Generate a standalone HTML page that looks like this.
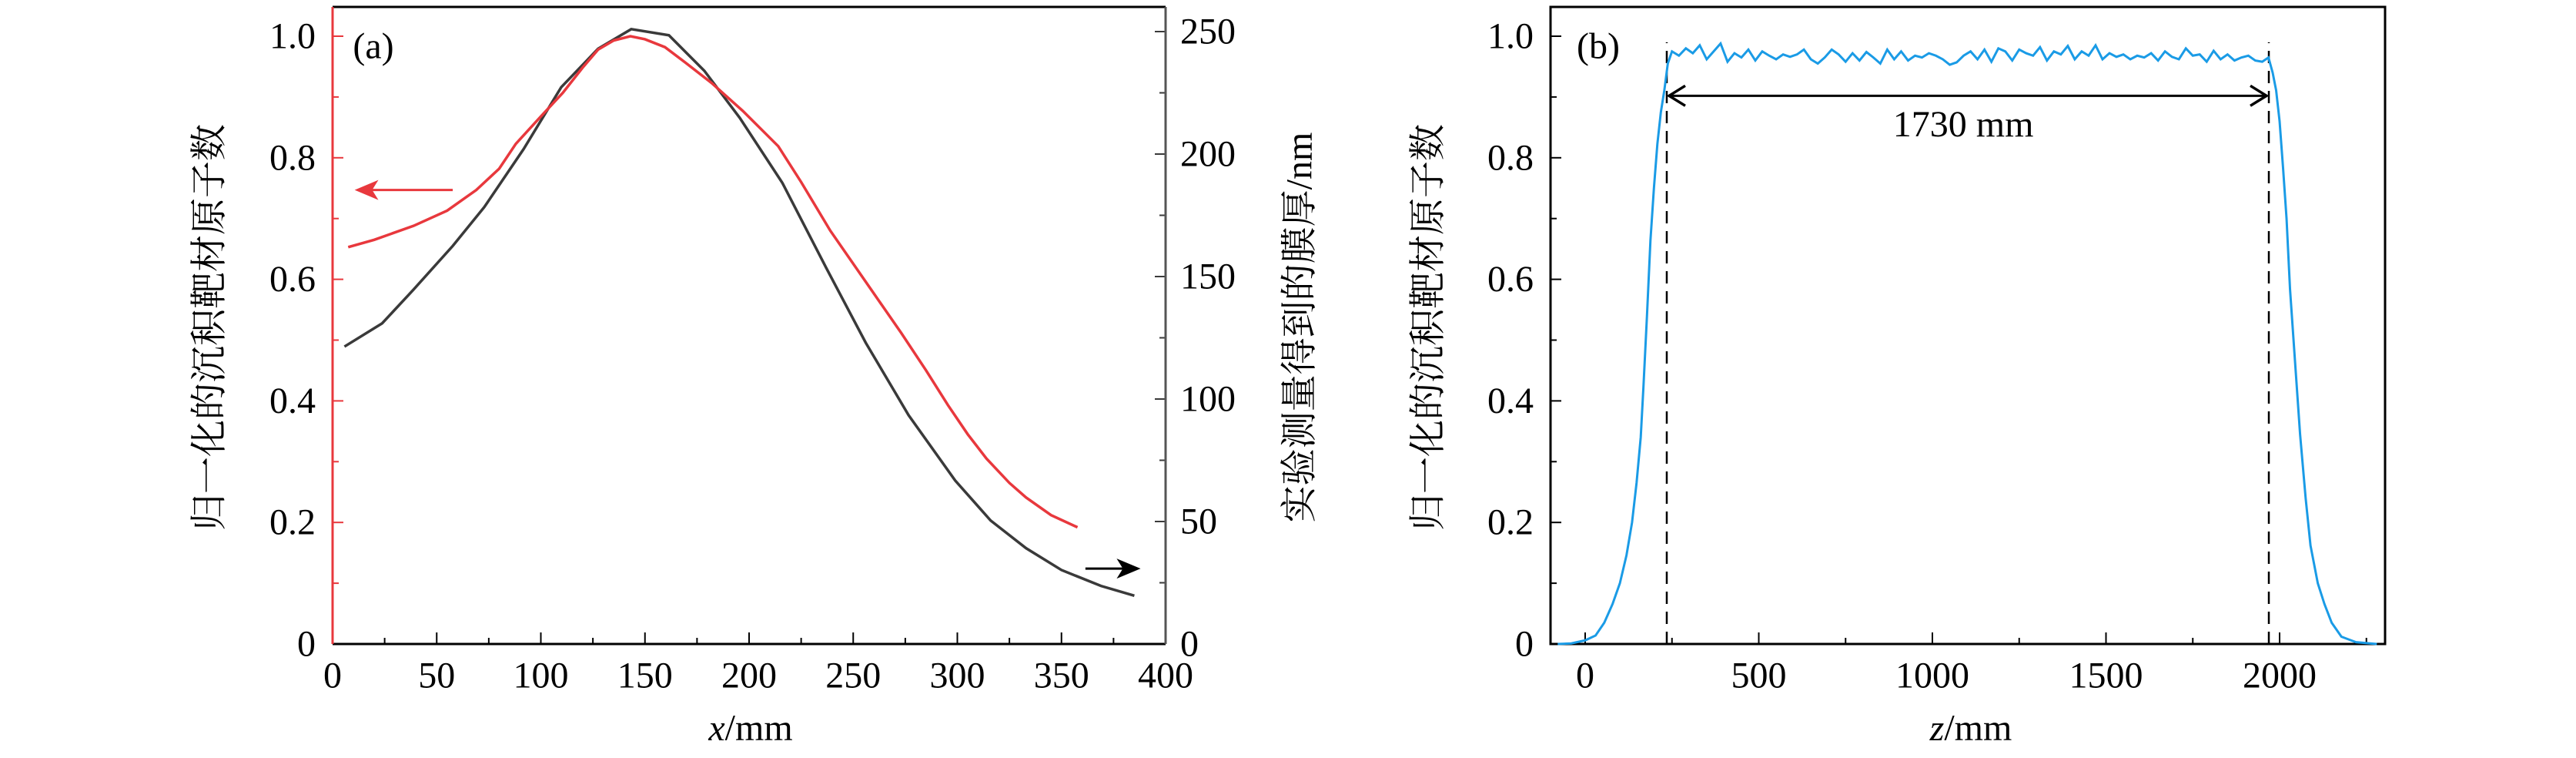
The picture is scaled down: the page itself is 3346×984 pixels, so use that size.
<!DOCTYPE html>
<html><head><meta charset="utf-8"><style>
html,body{margin:0;padding:0;background:#fff;}
svg{display:block;}
text{font-family:"Liberation Serif","Noto Serif CJK SC",serif;fill:#000;}
.cjk{font-family:"Liberation Serif","Noto Serif CJK SC","Noto Sans CJK SC",serif;}
</style></head><body>
<svg id="chart" width="3346" height="984" viewBox="0 0 3346 984" xmlns="http://www.w3.org/2000/svg"></svg>
<script>
// Panel (a) data
const redX = [7.5,20,38.9,55,69,80,88,100,110.6,120,127.5,135,143,150,159.6,170,182,197,214,225,239,256,273,285,295.5,305,314,325,333,345,357.7];
const redV = [0.653,0.665,0.688,0.713,0.747,0.782,0.823,0.868,0.907,0.948,0.978,0.993,1.0,0.995,0.982,0.955,0.923,0.877,0.819,0.76,0.68,0.596,0.512,0.45,0.393,0.345,0.305,0.265,0.241,0.212,0.192];
const blackX = [5.7,23.8,38.9,57.7,72.8,91.7,109.8,127.5,143.4,161.5,178.5,195.5,216,237,256,276.6,299,316,333,350,369,385];
const blackNm = [121.4,130.9,144.7,162.5,178.3,202,227.3,243,251,248.5,234,214.8,188.2,153.6,123,93.4,66.7,50.4,39.1,30.2,23.7,19.7];
const aXTicks = [0,50,100,150,200,250,300,350,400];
const aYTicks = [0,0.2,0.4,0.6,0.8,1.0];
const aYLabels = ["0","0.2","0.4","0.6","0.8","1.0"];
const aRTicks = [0,50,100,150,200,250];
// Panel (b) data
const blueZ = [-79,-40,0,30,55,79,100,119,135,148,160,168,178,188,198,208,218,228,238,
 250,270,290,310,330,350,370,390,410,430,450,470,490,510,530,550,570,590,610,630,650,670,690,710,730,750,770,790,810,830,850,870,890,910,930,950,970,990,1010,1030,1050,1070,1090,1110,1130,1150,1170,1190,1210,1230,1250,1270,1290,1310,1330,1350,1370,1390,1410,1430,1450,1470,1490,1510,1530,1550,1570,1590,1610,1630,1650,1670,1690,1710,1730,1750,1770,1790,1810,1830,1850,1870,1890,1910,1930,1950,1968,
 1980,1990,2000,2010,2020,2030,2045,2059,2075,2089,2110,2129,2150,2178,2220,2280];
const blueV = [0,0.001,0.006,0.014,0.035,0.066,0.1,0.146,0.2,0.265,0.34,0.425,0.54,0.664,0.75,0.823,0.875,0.911,0.955,
 0.975,0.968,0.98,0.972,0.985,0.962,0.975,0.988,0.958,0.972,0.965,0.978,0.96,0.975,0.968,0.962,0.97,0.966,0.97,0.978,0.962,0.955,0.965,0.978,0.97,0.958,0.972,0.96,0.974,0.965,0.955,0.978,0.962,0.975,0.96,0.968,0.965,0.972,0.968,0.962,0.953,0.957,0.968,0.975,0.962,0.978,0.958,0.98,0.975,0.96,0.978,0.972,0.968,0.982,0.96,0.975,0.97,0.984,0.962,0.975,0.968,0.985,0.962,0.972,0.966,0.97,0.962,0.968,0.965,0.972,0.96,0.975,0.966,0.962,0.98,0.968,0.97,0.958,0.976,0.962,0.97,0.96,0.965,0.968,0.96,0.958,0.965,
 0.94,0.911,0.86,0.783,0.7,0.584,0.46,0.345,0.24,0.162,0.1,0.066,0.035,0.012,0.003,0];
const bXTicks = [0,500,1000,1500,2000];
const dashZ = [235,1969];

const NS='http://www.w3.org/2000/svg';
const svg=document.getElementById('chart');
function mk(tag,attrs,parent){const e=document.createElementNS(NS,tag);for(const k in attrs)e.setAttribute(k,attrs[k]);(parent||svg).appendChild(e);return e;}
function txt(s,x,y,size,anchor,parent){const t=mk('text',{x:x,y:y,'font-size':size,'text-anchor':anchor||'middle','dominant-baseline':'central'},parent);t.textContent=s;return t;}

const FS=48;
// axis functions
const aL=432,aR=1514,aT=9,aB=836;
const ax=x=>aL+x/400*(aR-aL);
const ay=v=>aB-v*789;
const ayR=n=>aB-n/250*795;
const bL=2014,bR=3098;
const bx=z=>2059+z*0.451;
const by=ay;

// ---- Panel a ----
const ga=mk('g',{});


aXTicks.forEach((t,i)=>{
  mk('line',{x1:ax(t),x2:ax(t),y1:aB,y2:aB-15,stroke:'#000','stroke-width':2},ga);
  if(i<aXTicks.length-1) mk('line',{x1:ax(t+25),x2:ax(t+25),y1:aB,y2:aB-8,stroke:'#000','stroke-width':2},ga);
  const l=txt(String(t),ax(t),877,FS,'middle',ga);
  
  
});
aYTicks.forEach((t,i)=>{
  mk('line',{x1:aL,x2:aL+14,y1:ay(t),y2:ay(t),stroke:'#e8383d','stroke-width':2},ga);
  if(i<aYTicks.length-1) mk('line',{x1:aL,x2:aL+8,y1:ay(t+0.1),y2:ay(t+0.1),stroke:'#e8383d','stroke-width':2},ga);
  const l=txt(aYLabels[i],410,ay(t),FS,'end',ga);
  
  
});
aRTicks.forEach((t,i)=>{
  mk('line',{x1:aR,x2:aR-14,y1:ayR(t),y2:ayR(t),stroke:'#3a3a3a','stroke-width':2},ga);
  if(i<aRTicks.length-1) mk('line',{x1:aR,x2:aR-8,y1:ayR(t+25),y2:ayR(t+25),stroke:'#3a3a3a','stroke-width':2},ga);
  const l=txt(String(t),1533,ayR(t),FS,'start',ga);
  
  
});
mk('line',{x1:aL,x2:aR,y1:aT,y2:aT,stroke:'#000','stroke-width':3},ga);
mk('line',{x1:aL,x2:aR,y1:aB,y2:aB,stroke:'#000','stroke-width':3},ga);
mk('line',{x1:aL,x2:aL,y1:aT,y2:aB,stroke:'#e8383d','stroke-width':3},ga);
mk('line',{x1:aR,x2:aR,y1:aT,y2:aB,stroke:'#555','stroke-width':3},ga);
const blk=mk('polyline',{points:blackX.map((x,i)=>ax(x)+','+ayR(blackNm[i])).join(' '),fill:'none',stroke:'#3a3a3a','stroke-width':3.5},ga);


const red=mk('polyline',{points:redX.map((x,i)=>ax(x)+','+ay(redV[i])).join(' '),fill:'none',stroke:'#e8383d','stroke-width':3.5},ga);


mk('line',{x1:ax(57.7),x2:ax(16),y1:ay(0.747),y2:ay(0.747),stroke:'#e8383d','stroke-width':3},ga);
const ra=mk('polygon',{points:`${ax(10.6)},${ay(0.747)} ${ax(22)},${ay(0.747)-13} ${ax(19)},${ay(0.747)} ${ax(22)},${ay(0.747)+13}`,fill:'#e8383d'},ga);


mk('line',{x1:ax(361.5),x2:ax(382),y1:ay(0.124),y2:ay(0.124),stroke:'#000','stroke-width':3},ga);
const ba=mk('polygon',{points:`${ax(388)},${ay(0.124)} ${ax(376.5)},${ay(0.124)-13} ${ax(379.5)},${ay(0.124)} ${ax(376.5)},${ay(0.124)+13}`,fill:'#000'},ga);


const la=txt('(a)',485,60,FS,'middle',ga);


const xt=mk('text',{x:975,y:945,'font-size':FS,'text-anchor':'middle','dominant-baseline':'central'},ga);
xt.innerHTML='<tspan font-style="italic">x</tspan>/mm';


const yt=mk('text',{x:0,y:0,'font-size':48,'text-anchor':'middle','dominant-baseline':'central',transform:'translate(272,425) rotate(-90)',class:'cjk'},ga);
yt.textContent='归一化的沉积靶材原子数';


const rt=mk('text',{x:0,y:0,'font-size':48,'text-anchor':'middle','dominant-baseline':'central',transform:'translate(1688,425) rotate(-90)',class:'cjk'},ga);
rt.textContent='实验测量得到的膜厚/nm';



// ---- Panel b ----
const gb=mk('g',{});


bXTicks.forEach((t,i)=>{
  mk('line',{x1:bx(t),x2:bx(t),y1:aB,y2:aB-15,stroke:'#000','stroke-width':2},gb);
  mk('line',{x1:bx(t+250),x2:bx(t+250),y1:aB,y2:aB-8,stroke:'#000','stroke-width':2},gb);
  const l=txt(String(t),bx(t),877,FS,'middle',gb);
  
  
});
aYTicks.forEach((t,i)=>{
  mk('line',{x1:bL,x2:bL+14,y1:by(t),y2:by(t),stroke:'#000','stroke-width':2},gb);
  if(i<aYTicks.length-1) mk('line',{x1:bL,x2:bL+8,y1:by(t+0.1),y2:by(t+0.1),stroke:'#000','stroke-width':2},gb);
  const l=txt(aYLabels[i],1992,by(t),FS,'end',gb);
  
  
});
mk('rect',{x:bL,y:aT,width:bR-bL,height:aB-aT,fill:'none',stroke:'#000','stroke-width':3},gb);
dashZ.forEach(z=>{
  const d=mk('line',{x1:bx(z),x2:bx(z),y1:by(0),y2:by(0.99),stroke:'#000','stroke-width':2.5,'stroke-dasharray':'16,10'},gb);
  
  
});
const bl=mk('polyline',{points:blueZ.map((z,i)=>bx(z)+','+by(blueV[i])).join(' '),fill:'none',stroke:'#1a9be6','stroke-width':3},gb);


const ay0=by(0.902);
mk('line',{x1:bx(dashZ[0])+4,x2:bx(dashZ[1])-4,y1:ay0,y2:ay0,stroke:'#000','stroke-width':3},gb);
mk('polyline',{points:`${bx(dashZ[0])+24},${ay0-13} ${bx(dashZ[0])+3},${ay0} ${bx(dashZ[0])+24},${ay0+13}`,fill:'none',stroke:'#000','stroke-width':3.5},gb);
mk('polyline',{points:`${bx(dashZ[1])-24},${ay0-13} ${bx(dashZ[1])-3},${ay0} ${bx(dashZ[1])-24},${ay0+13}`,fill:'none',stroke:'#000','stroke-width':3.5},gb);
const wl=txt('1730 mm',bx(1089),by(0.855),FS,'middle',gb);


const lb=txt('(b)',2076,60,FS,'middle',gb);


const xtb=mk('text',{x:2560,y:945,'font-size':FS,'text-anchor':'middle','dominant-baseline':'central'},gb);
xtb.innerHTML='<tspan font-style="italic">z</tspan>/mm';


const ytb=mk('text',{x:0,y:0,'font-size':48,'text-anchor':'middle','dominant-baseline':'central',transform:'translate(1855,425) rotate(-90)',class:'cjk'},gb);
ytb.textContent='归一化的沉积靶材原子数';


</script>
</body></html>
